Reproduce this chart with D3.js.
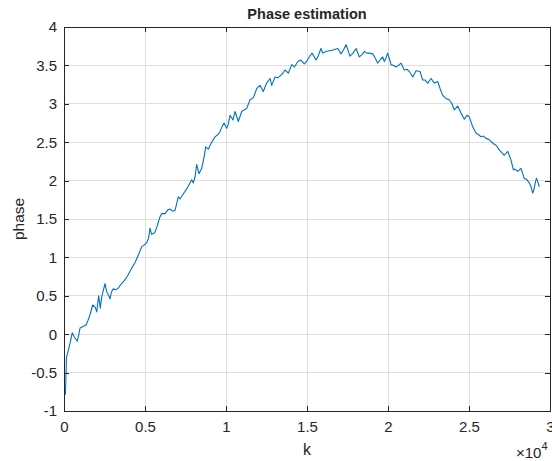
<!DOCTYPE html>
<html>
<head>
<meta charset="utf-8">
<script src="https://cdn.jsdelivr.net/npm/d3@7"></script>
<style>
body { margin: 0; background: #fff; }
text { font-family: "Liberation Sans", Arial, Helvetica, sans-serif; fill: #262626; }
</style>
</head>
<body>
<script>
// phase estimate (k in samples, phase in rad)
var kVals = [0, 90, 150, 220, 280, 370, 510, 620, 680, 820, 900, 990, 1170, 1360, 1480, 1600,
  1770, 1930, 2020, 2140, 2240, 2330, 2440, 2530, 2640, 2720, 2840, 2930, 3040, 3210, 3350,
  3520, 3770, 3950, 4180, 4380, 4590, 4800, 4940, 5100, 5220, 5310, 5410, 5530, 5620, 5740,
  5930, 6030, 6230, 6420, 6540, 6730, 6850, 7060, 7160, 7280, 7470, 7650, 7880, 7980, 8090,
  8190, 8330, 8500, 8640, 8750, 8910, 9070, 9320, 9510, 9630, 9750, 9880, 10040, 10120,
  10250, 10430, 10560, 10760, 10970, 11110, 11280, 11480, 11690, 11900, 12100, 12300, 12510,
  12720, 12820, 13030, 13210, 13440, 13640, 13850, 14060, 14220, 14440, 14630, 14830, 15000,
  15140, 15310, 15560, 15710, 15860, 15970, 16170, 16380, 16610, 16900, 17100, 17250, 17410,
  17530, 17650, 17840, 18030, 18230, 18400, 18540, 18700, 18850, 19060, 19200, 19360, 19510,
  19670, 19770, 19880, 19980, 20090, 20190, 20340, 20490, 20650, 20800, 21010, 21170, 21320,
  21530, 21730, 21980, 22140, 22280, 22450, 22660, 22860, 23070, 23210, 23380, 23580, 23790,
  23950, 24090, 24300, 24510, 24710, 24880, 25020, 25230, 25430, 25590, 25740, 25900, 26050,
  26200, 26360, 26510, 26670, 26870, 27040, 27180, 27390, 27590, 27740, 27840, 28010, 28210,
  28410, 28580, 28720, 28830, 28930, 28980, 29080, 29160, 29240, 29340];
var phaseVals = [-0.78, -0.78, -0.30, -0.25, -0.20, -0.12, 0.02, -0.03, -0.05, -0.09, -0.02,
  0.08, 0.10, 0.12, 0.18, 0.25, 0.38, 0.35, 0.29, 0.50, 0.34, 0.49, 0.58, 0.66, 0.55, 0.52,
  0.46, 0.55, 0.59, 0.58, 0.60, 0.65, 0.71, 0.77, 0.86, 0.93, 1.03, 1.14, 1.16, 1.19, 1.25,
  1.38, 1.30, 1.31, 1.33, 1.40, 1.53, 1.57, 1.57, 1.62, 1.63, 1.60, 1.61, 1.79, 1.76, 1.80,
  1.86, 1.92, 2.01, 1.97, 2.05, 2.21, 2.09, 2.16, 2.30, 2.44, 2.41, 2.48, 2.57, 2.60, 2.64,
  2.70, 2.75, 2.68, 2.72, 2.85, 2.79, 2.90, 2.77, 2.90, 2.92, 2.94, 3.05, 3.08, 3.20, 3.24,
  3.16, 3.27, 3.33, 3.24, 3.35, 3.34, 3.38, 3.44, 3.40, 3.51, 3.48, 3.55, 3.57, 3.52, 3.56,
  3.61, 3.66, 3.57, 3.63, 3.72, 3.66, 3.68, 3.69, 3.70, 3.72, 3.65, 3.70, 3.77, 3.70, 3.62,
  3.66, 3.72, 3.61, 3.64, 3.68, 3.66, 3.66, 3.65, 3.60, 3.53, 3.57, 3.61, 3.55, 3.60, 3.66,
  3.58, 3.51, 3.50, 3.48, 3.50, 3.53, 3.44, 3.45, 3.42, 3.35, 3.43, 3.42, 3.31, 3.31, 3.27,
  3.33, 3.27, 3.29, 3.20, 3.11, 3.07, 3.05, 3.00, 2.92, 2.97, 2.88, 2.80, 2.85, 2.83, 2.70,
  2.62, 2.60, 2.57, 2.58, 2.55, 2.54, 2.51, 2.48, 2.46, 2.40, 2.36, 2.33, 2.38, 2.27, 2.14,
  2.15, 2.12, 2.16, 2.03, 2.01, 1.97, 1.92, 1.84, 1.86, 1.96, 2.03, 1.99, 1.92];
var xTicks = [0, 5000, 10000, 15000, 20000, 25000, 30000];
var xTickLabels = ["0", "0.5", "1", "1.5", "2", "2.5", "3"];
var yTicks = [-1, -0.5, 0, 0.5, 1, 1.5, 2, 2.5, 3, 3.5, 4];
var yTickLabels = ["-1", "-0.5", "0", "0.5", "1", "1.5", "2", "2.5", "3", "3.5", "4"];

var W = 552, H = 461;
var axL = 64, axR = 550, axT = 27, axB = 411;

var svg = d3.select("body").append("svg")
    .attr("width", W)
    .attr("height", H);

var x = d3.scaleLinear().domain([0, 30000]).range([axL, axR]);
var y = d3.scaleLinear().domain([-1, 4]).range([axB, axT]);

var pts = kVals.map(function(k, i){ return [k, phaseVals[i]]; });

// grid
var grid = svg.append("g");
grid.selectAll("line.gx").data(xTicks.slice(1, -1)).enter().append("line")
    .attr("x1", function(d){ return x(d); }).attr("x2", function(d){ return x(d); })
    .attr("y1", axT).attr("y2", axB)
    .attr("stroke", "#dedede").attr("stroke-width", 1).attr("shape-rendering", "crispEdges");
grid.selectAll("line.gy").data(yTicks.slice(1, -1)).enter().append("line")
    .attr("y1", function(d){ return y(d); }).attr("y2", function(d){ return y(d); })
    .attr("x1", axL).attr("x2", axR)
    .attr("stroke", "#dedede").attr("stroke-width", 1).attr("shape-rendering", "crispEdges");

// the curve
var line = d3.line().x(function(d){ return x(d[0]); }).y(function(d){ return y(d[1]); });
svg.append("path").datum(pts)
    .attr("d", line)
    .attr("fill", "none")
    .attr("stroke", "#0072BD")
    .attr("stroke-width", 1.1)
    .attr("stroke-linejoin", "round");

// axes (ticks inward, box on)
var ax = "#262626";
var xb = svg.append("g").attr("transform", "translate(0," + axB + ")")
    .call(d3.axisBottom(x).tickValues(xTicks).tickFormat(function(d, i){ return xTickLabels[i]; })
        .tickSizeInner(-5).tickSizeOuter(0).tickPadding(10));
var xt = svg.append("g").attr("transform", "translate(0," + axT + ")")
    .call(d3.axisTop(x).tickValues(xTicks).tickFormat("").tickSizeInner(-5).tickSizeOuter(0));
var yl = svg.append("g").attr("transform", "translate(" + axL + ",0)")
    .call(d3.axisLeft(y).tickValues(yTicks).tickFormat(function(d, i){ return yTickLabels[i]; })
        .tickSizeInner(-5).tickSizeOuter(0).tickPadding(7));
var yr = svg.append("g").attr("transform", "translate(" + axR + ",0)")
    .call(d3.axisRight(y).tickValues(yTicks).tickFormat("").tickSizeInner(-5).tickSizeOuter(0));

[xb, xt, yl, yr].forEach(function(g){
  g.selectAll("path").attr("stroke", ax).attr("stroke-width", 1).attr("shape-rendering", "crispEdges");
  g.selectAll("line").attr("stroke", ax).attr("shape-rendering", "crispEdges");
  g.selectAll("text").attr("font-size", 15).attr("fill", ax)
    .attr("font-family", "'Liberation Sans', Arial, sans-serif");
});

// labels
svg.append("text").attr("x", (axL + axR) / 2).attr("y", 19)
    .attr("text-anchor", "middle").attr("font-size", 14.5).attr("font-weight", "bold")
    .attr("fill", "#000").text("Phase estimation");
svg.append("text").attr("x", (axL + axR) / 2).attr("y", 455)
    .attr("text-anchor", "middle").attr("font-size", 16).text("k");
svg.append("text").attr("transform", "translate(23.5," + ((axT + axB) / 2) + ") rotate(-90)")
    .attr("text-anchor", "middle").attr("font-size", 15.5).text("phase");
var mult = svg.append("text").attr("x", 516).attr("y", 458).attr("font-size", 15);
mult.append("tspan").text("\u00d710");
mult.append("tspan").attr("dy", -8).attr("font-size", 11).text("4");
</script>
</body>
</html>
